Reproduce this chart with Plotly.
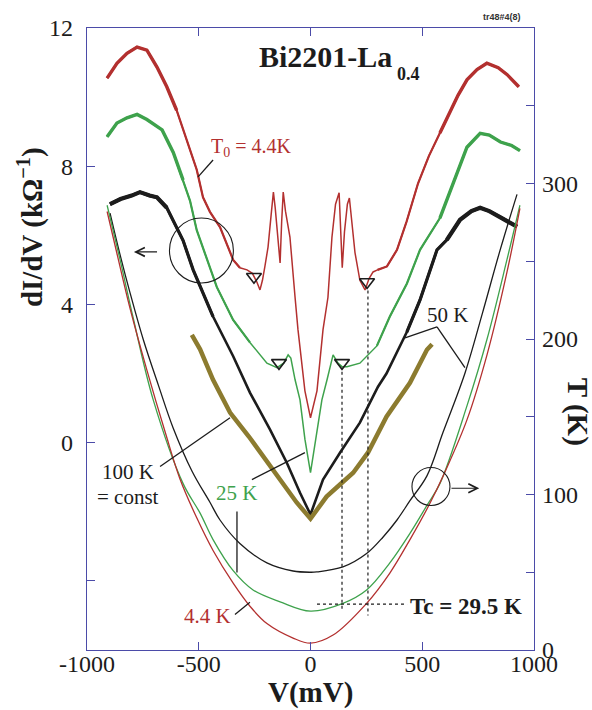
import plotly.graph_objects as go

# ---------------- data ----------------
# dI/dV spectra, left axis (kOhm^-1)
V_red = [-910,-866,-821,-776,-732,-687,-643,-599,-554,-509,-481,-450,-405,-346,-316,-284,-260,-240,-226,-215,
         -204,-190,-176,-166,-158,-146,-136,-129,-122,-112,-92,-69,-56,-25,0,29,56,78,96,112,
         128,136,142,152,165,174,186,199,221,244,262,280,300,342,387,430,481,530,579,620,
         660,700,745,789,840,880,932]
G_red = [10.55,10.98,11.27,11.45,11.36,10.87,10.3,9.62,8.76,7.9,7.1,6.68,6.24,5.29,5.06,5.0,4.9,4.65,4.42,4.7,
         5.1,5.66,6.6,7.25,6.8,5.9,5.2,6.4,7.25,6.7,5.95,4.2,3.27,1.5,0.72,1.5,3.27,4.2,5.95,6.9,
         7.23,6.0,5.06,6.1,6.9,7.08,6.4,5.5,4.7,4.42,4.75,4.94,5.0,5.1,5.58,6.4,7.5,8.3,8.96,9.5,
         10.05,10.5,10.8,10.98,10.85,10.65,10.3]

V_green = [-910,-866,-821,-776,-732,-700,-664,-614,-570,-539,-509,-463,-419,-346,-271,-195,-150,-120,-100,-88,
           -69,-47,-25,0,25,51,74,101,123,141,163,221,297,355,431,490,579,655,700,759,800,850,900,937]
G_green = [8.85,9.25,9.4,9.5,9.35,9.2,9.05,8.4,7.6,7.0,6.15,5.3,4.5,3.55,2.9,2.3,2.17,2.3,2.54,2.45,
           1.82,1.24,0.1,-0.87,0.1,1.24,1.82,2.54,2.3,2.2,2.2,2.3,2.8,3.65,4.6,5.58,6.5,7.8,8.55,8.95,
           8.9,8.7,8.6,8.45]

V_black = [-897,-850,-800,-763,-720,-687,-643,-599,-570,-525,-481,-436,-346,-271,-181,-106,-47,0,56,132,
           221,302,340,431,490,566,610,669,720,759,800,848,924]
G_black = [6.9,7.05,7.15,7.25,7.15,7.1,6.8,6.25,5.85,5.0,4.33,3.65,2.5,1.45,0.38,-0.58,-1.45,-2.08,-1.07,-0.29,
           0.58,1.62,2.0,3.2,4.13,5.58,5.87,6.45,6.7,6.8,6.7,6.53,6.25]

V_olive = [-531,-494,-436,-360,-275,-195,-123,-62,0,72,132,191,257,302,340,445,521,544]
G_olive = [3.12,2.7,1.82,0.87,0.17,-0.55,-1.16,-1.73,-2.2,-1.56,-1.21,-0.87,-0.29,0.29,0.75,1.73,2.69,2.85]

# effective temperature curves T(V), right axis (K)
V_T50 = [-897,-850,-808,-749,-680,-615,-530,-450,-405,-316,-195,-78,0,28,145,251,325,387,445,521,593,691,770,848,924]
T_50 = [281,253,230,200,170,143,115,95,83.6,68.5,56,50.8,50,50.2,53.4,62,72.7,83.6,96,112,140,178,217,257,293]

V_T25 = [-910,-852,-794,-704,-570,-494,-436,-346,-257,-136,0,145,251,355,445,521,579,700,790,879,937]
T_25 = [286,251,214,161,107,88,71,51,38.6,31,25,30,38.6,56,75,93,107,157,200,251,286]

V_T4 = [-910,-866,-808,-732,-650,-584,-509,-436,-346,-270,-195,-78,0,101,251,355,445,535,600,700,790,879,937]
T_4 = [282,255,220,180,140,110,85,64,43,28,17,7.7,4.4,9.6,30,49.5,71,94.5,114,148,190,243,284]

# gap markers and Tc guide
tri_V = [-253, 253, -141, 141]
tri_G = [4.8, 4.65, 2.31, 2.31]
gap_V = [141, 257]
gap_top = [2.05, 4.4]
gap_bottom = [-4.88, -5.0]
Tc = 29.5
Tc_V = [29, 432]

# axis ticks
x_ticks = [-1000, -500, 0, 500, 1000]
x_ticktext = ["-1000", "-500", "0", "500", "1000"]
yL_ticks = [-4, 0, 4, 8, 12]
yL_ticktext = ["", "0", "4", "8", "12"]
yR_ticks = [0, 50, 100, 150, 200, 250, 300, 350]
yR_ticktext = ["0", "", "100", "", "200", "", "300", ""]

# ---------------- styles ----------------
RED = "#b3302f"
GREEN = "#3ea24c"
BLACK = "#1c1c1c"
OLIVE = "#8c7b2f"
AX = "#4b4ba8"
SERIF = "Liberation Serif"

fig = go.Figure()

def add_spec(V, G, color, w_in, w_mid, w_out, cut_mid, cut_out):
    fig.add_trace(go.Scatter(x=V, y=G, mode="lines", line=dict(color=color, width=w_in),
                             showlegend=False, hoverinfo="skip"))
    for cut, w in ((cut_mid, w_mid), (cut_out, w_out)):
        left = [(v, g) for v, g in zip(V, G) if v <= -cut]
        right = [(v, g) for v, g in zip(V, G) if v >= cut]
        for seg in (left, right):
            if len(seg) > 1:
                fig.add_trace(go.Scatter(x=[p[0] for p in seg], y=[p[1] for p in seg], mode="lines",
                                         line=dict(color=color, width=w),
                                         showlegend=False, hoverinfo="skip"))

add_spec(V_red, G_red, RED, 1.5, 2.2, 3.4, 300, 560)
add_spec(V_green, G_green, GREEN, 1.5, 2.2, 3.4, 250, 560)
add_spec(V_black, G_black, BLACK, 2.6, 3.2, 4.2, 350, 600)
fig.add_trace(go.Scatter(x=V_olive, y=G_olive, mode="lines", line=dict(color=OLIVE, width=4.5),
                         showlegend=False, hoverinfo="skip"))

for Vt, Tt, col in ((V_T50, T_50, BLACK), (V_T25, T_25, GREEN), (V_T4, T_4, RED)):
    fig.add_trace(go.Scatter(x=Vt, y=Tt, mode="lines", yaxis="y2", line=dict(color=col, width=1.3, shape="spline"),
                             showlegend=False, hoverinfo="skip"))

# dotted guides
for v, top, bot in zip(gap_V, gap_top, gap_bottom):
    fig.add_trace(go.Scatter(x=[v, v], y=[top, bot], mode="lines", line=dict(color=BLACK, width=1.2, dash="dot"),
                             showlegend=False, hoverinfo="skip"))
fig.add_trace(go.Scatter(x=Tc_V, y=[Tc, Tc], mode="lines", yaxis="y2",
                         line=dict(color=BLACK, width=1.2, dash="dot"), showlegend=False, hoverinfo="skip"))

# gap triangles
fig.add_trace(go.Scatter(x=tri_V, y=tri_G, mode="markers",
                         marker=dict(symbol="triangle-down-open", size=13, color=BLACK, line=dict(width=1.6)),
                         showlegend=False, hoverinfo="skip"))

shapes = []
def seg(x0, y0, x1, y1):
    shapes.append(dict(type="line", xref="x", yref="y", x0=x0, y0=y0, x1=x1, y1=y1,
                       line=dict(color=BLACK, width=1.3)))

seg(-436, 8.18, -503, 7.69)      # T0 label pointer
seg(-673, -0.69, -360, 0.72)     # 100 K pointer
seg(-262, -1.07, -25, -0.29)     # 25 K pointer to spectrum
seg(-329, -1.99, -329, -3.76)    # 25 K pointer to T curve
seg(-338, -4.97, -271, -4.62)    # 4.4 K pointer
seg(423, 3.03, 566, 3.35)        # 50 K bracket
seg(566, 3.35, 691, 2.17)

shapes.append(dict(type="circle", xref="x", yref="y", x0=-631, x1=-345, y0=4.62, y1=6.5,
                   line=dict(color=BLACK, width=1.1)))
shapes.append(dict(type="circle", xref="x", yref="y", x0=454, x1=624, y0=-1.82, y1=-0.72,
                   line=dict(color=BLACK, width=1.1)))

ann = []
def txt(x, y, s, color=BLACK, size=21, xanchor="center", ref=("x", "y"), angle=0, yanchor="middle"):
    ann.append(dict(x=x, y=y, xref=ref[0], yref=ref[1], text=s, showarrow=False, textangle=angle,
                    font=dict(family=SERIF, size=size, color=color), xanchor=xanchor, yanchor=yanchor))

# arrows from circles to their axes
ann.append(dict(x=-790, y=5.52, ax=-680, ay=5.52, xref="x", yref="y", axref="x", ayref="y", text="",
                showarrow=True, arrowhead=5, arrowsize=1.6, arrowwidth=1.1, arrowcolor=BLACK))
ann.append(dict(x=755, y=-1.32, ax=624, ay=-1.32, xref="x", yref="y", axref="x", ayref="y", text="",
                showarrow=True, arrowhead=5, arrowsize=1.6, arrowwidth=1.1, arrowcolor=BLACK))

txt(-454, 8.55, "T<sub>0</sub> = 4.4K", RED, 20, "left")
txt(-817, -0.84, "100 K", BLACK, 21)
txt(-817, -1.56, "= const", BLACK, 21)
txt(-329, -1.47, "25 K", GREEN, 21)
txt(-459, -5.03, "4.4 K", RED, 21)
txt(615, 3.7, "50 K", BLACK, 21)
txt(434, -4.74, "<b>Tc = 29.5 K</b>", BLACK, 23, "left")
txt(-239, 11.18, "<b>Bi2201-La</b>", BLACK, 30, "left")
txt(376, 10.66, "<b>0.4</b>", BLACK, 18, "left")

# axis titles and tag
txt(-0.1275, 0.68, "<b>dI/dV (kΩ<sup>−1</sup>)</b>", BLACK, 29, ref=("paper", "paper"), angle=-90)
txt(1.096, 0.383, "<b>T (K)</b>", BLACK, 29, ref=("paper", "paper"), angle=90)
txt(0.5, -0.069, "<b>V(mV)</b>", BLACK, 29, ref=("paper", "paper"))
ann.append(dict(x=0.928, y=1.0177, xref="paper", yref="paper", text="<b>tr48#4(8)</b>", showarrow=False,
                font=dict(family="Liberation Sans", size=9, color="#333333"), xanchor="center", yanchor="middle"))

tickfont = dict(family=SERIF, size=24, color=BLACK)

fig.update_layout(
    width=592, height=710,
    margin=dict(l=87, r=58, t=28, b=60, autoexpand=False),
    paper_bgcolor="white", plot_bgcolor="white",
    showlegend=False,
    shapes=shapes, annotations=ann,
    xaxis=dict(range=[-1000, 1000], tickvals=x_ticks, ticktext=x_ticktext, ticks="inside", ticklen=8,
               tickcolor=AX, tickwidth=1.3, showline=True, linecolor=AX, linewidth=1.3, mirror="ticks",
               showgrid=False, zeroline=False, tickfont=tickfont, ticklabelstandoff=-8, automargin=False),
    yaxis=dict(range=[-6, 12], tickvals=yL_ticks, ticktext=yL_ticktext, ticks="inside",
               ticklen=8, tickcolor=AX, tickwidth=1.3, showline=True, linecolor=AX, linewidth=1.3,
               showgrid=False, zeroline=False, tickfont=tickfont, ticklabelstandoff=8, automargin=False),
    yaxis2=dict(range=[0, 400], overlaying="y", side="right", tickvals=yR_ticks,
                ticktext=yR_ticktext, ticks="inside", ticklen=8, tickcolor=AX,
                tickwidth=1.3, showline=True, linecolor=AX, linewidth=1.3, showgrid=False, zeroline=False,
                tickfont=tickfont, ticklabelstandoff=2, automargin=False),
)

fig.write_html("out.html", post_script="document.body.style.margin='0px';",
               config={"displayModeBar": False})
